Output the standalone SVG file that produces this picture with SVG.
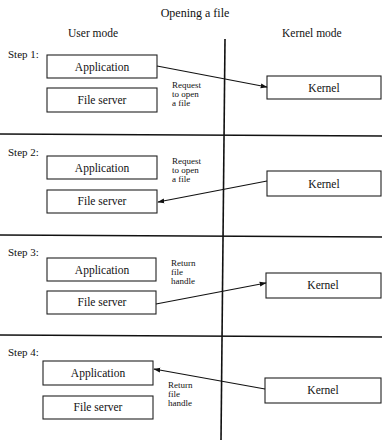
<svg xmlns="http://www.w3.org/2000/svg" width="382" height="440" viewBox="0 0 382 440">
<style>
text{font-family:"Liberation Serif","Times New Roman",serif;fill:#111}
.t{font-size:12px}
.h{font-size:11.5px}
.s{font-size:11px}
.b{font-size:11.5px;text-anchor:middle}
.l{font-size:9px}
rect{fill:#fff;stroke:#222;stroke-width:1.1}
.sep{stroke:#111;stroke-width:1.6;fill:none}
.c{stroke:#111;stroke-width:1.2;fill:none;marker-end:url(#ah)}
</style>
<defs>
<marker id="ah" viewBox="0 0 10 10" refX="9" refY="5" markerWidth="7" markerHeight="7" orient="auto" markerUnits="userSpaceOnUse">
<path d="M0,1.5 L10,5 L0,8.5 z" fill="#111"/>
</marker>
</defs>
<rect x="0" y="0" width="382" height="440" style="stroke:none"/>
<text class="t" x="195" y="17" text-anchor="middle">Opening a file</text>
<text class="h" x="68" y="37">User mode</text>
<text class="h" x="282" y="37">Kernel mode</text>
<g id="frame">
<path class="sep" d="M225,39 L221,440"/>
<path class="sep" d="M0,134 L382,136"/>
<path class="sep" d="M0,235 L382,237"/>
<path class="sep" d="M0,335 L382,337"/>
</g>
<g id="step1">
<text class="s" x="8" y="58">Step 1:</text>
<g id="app1"><rect x="47" y="55" width="110" height="23"/><text class="b" x="102" y="71">Application</text></g>
<g id="fs1"><rect x="47" y="88" width="110" height="24"/><text class="b" x="102" y="104">File server</text></g>
<g id="k1"><rect x="267" y="76" width="114" height="23"/><text class="b" x="324" y="92">Kernel</text></g>
<text class="l" x="172" y="88">Request</text>
<text class="l" x="172" y="97">to open</text>
<text class="l" x="172" y="106">a file</text>
</g>
<g id="step2">
<text class="s" x="8" y="156">Step 2:</text>
<g id="app2"><rect x="47" y="156" width="110" height="23"/><text class="b" x="102" y="172">Application</text></g>
<g id="fs2"><rect x="47" y="190" width="110" height="23"/><text class="b" x="102" y="205">File server</text></g>
<g id="k2"><rect x="267" y="171" width="114" height="25"/><text class="b" x="324" y="188">Kernel</text></g>
<text class="l" x="172" y="164">Request</text>
<text class="l" x="172" y="173">to open</text>
<text class="l" x="172" y="182">a file</text>
</g>
<g id="step3">
<text class="s" x="8" y="256">Step 3:</text>
<g id="app3"><rect x="47" y="258" width="109" height="23"/><text class="b" x="102" y="274">Application</text></g>
<g id="fs3"><rect x="47" y="291" width="109" height="23"/><text class="b" x="102" y="306">File server</text></g>
<g id="k3"><rect x="266" y="273" width="115" height="25"/><text class="b" x="323" y="289">Kernel</text></g>
<text class="l" x="171" y="266">Return</text>
<text class="l" x="171" y="275">file</text>
<text class="l" x="171" y="284">handle</text>
</g>
<g id="step4">
<text class="s" x="8" y="356">Step 4:</text>
<g id="app4"><rect x="43" y="361" width="110" height="24"/><text class="b" x="98" y="377">Application</text></g>
<g id="fs4"><rect x="43" y="396" width="110" height="23"/><text class="b" x="98" y="411">File server</text></g>
<g id="k4"><rect x="265" y="378" width="116" height="25"/><text class="b" x="323" y="394">Kernel</text></g>
<text class="l" x="168" y="388">Return</text>
<text class="l" x="168" y="397">file</text>
<text class="l" x="168" y="406">handle</text>
</g>
<g id="connectors">
<path class="c" d="M157,66 L267,87"/>
<path class="c" d="M267,181 L158,202"/>
<path class="c" d="M156,304 L266,283"/>
<path class="c" d="M265,389 L154,369"/>
</g>
</svg>
